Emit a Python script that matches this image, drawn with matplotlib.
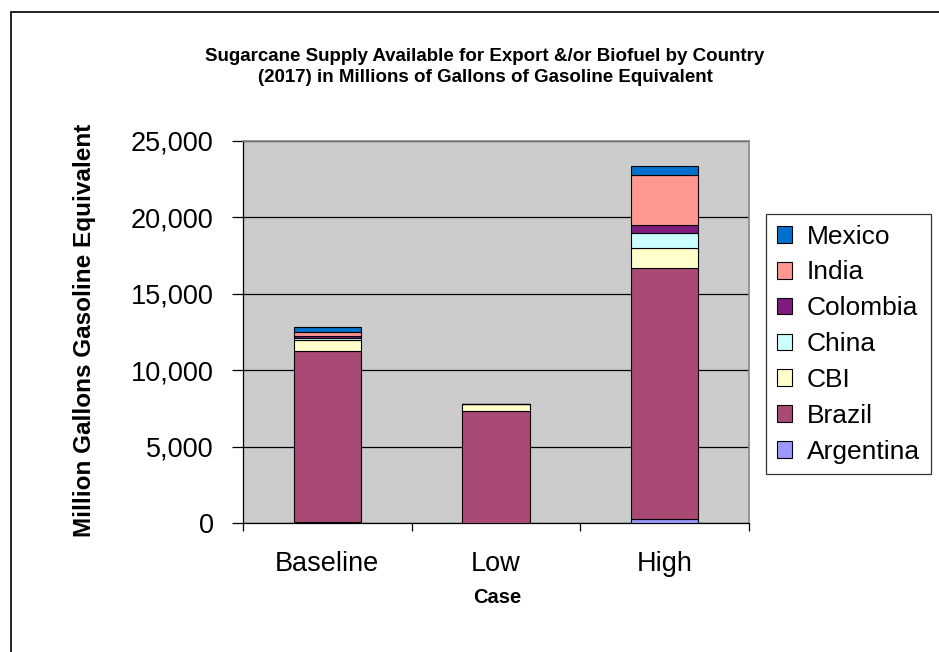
import matplotlib.pyplot as plt
import matplotlib.patches as mpatches
from matplotlib.ticker import FuncFormatter
import numpy as np

plt.rcParams['font.family'] = ['Liberation Sans', 'DejaVu Sans']

cases = ['Baseline', 'Low', 'High']
countries = ['Argentina', 'Brazil', 'CBI', 'China', 'Colombia', 'India', 'Mexico']
argentina = [100, 0, 280]
brazil = [11150, 7340, 16390]
cbi = [730, 460, 1350]
china = [100, 0, 940]
colombia = [170, 0, 545]
india = [280, 0, 3270]
mexico = [280, 0, 540]
series = [argentina, brazil, cbi, china, colombia, india, mexico]
colors = ['#9999FF', '#A94A76', '#FFFFCC', '#CCFFFF', '#7F1A7F', '#FF9791', '#0070CC']

W, H = 939, 652
fig = plt.figure(figsize=(W / 100, H / 100), dpi=100)

# outer chart frame (right and bottom edges run off the canvas)
fig.patches.append(mpatches.Rectangle((11 / W, -0.1), 1.2, 1.1 - 12 / H,
                                      transform=fig.transFigure, fill=False,
                                      edgecolor='black', linewidth=1.2))

ax = fig.add_axes([243 / W, 1 - 523.3 / H, (749 - 243) / W, (523.3 - 140.7) / H])
ax.set_facecolor('#CCCCCC')

x = np.arange(len(cases))
bottom = np.zeros(len(cases))
handles = []
for name, vals, c in zip(countries, series, colors):
    v = np.array(vals, dtype=float)
    b = ax.bar(x, v, 0.4, bottom=bottom, color=c, edgecolor='black',
               linewidth=0.8, label=name, zorder=3)
    handles.append(b)
    bottom += v

ax.set_xlim(-0.5, 2.5)
ax.set_ylim(0, 25000)
ax.set_yticks(np.arange(0, 25001, 5000))
ax.yaxis.set_major_formatter(FuncFormatter(lambda v, p: f'{int(v):,}'))
ax.grid(axis='y', color='black', linewidth=0.9, zorder=1)
ax.set_xticks(x)
ax.set_xticklabels(cases)
ax.set_xticks([-0.5, 0.5, 1.5, 2.5], minor=True)
ax.tick_params(axis='x', which='major', length=0, pad=20, labelsize=19.5)
ax.tick_params(axis='x', which='minor', length=6, width=0.9, direction='out')
ax.tick_params(axis='y', length=8, width=0.9, direction='out', labelsize=19.5, pad=13)

for s in ['top', 'right']:
    ax.spines[s].set_color('#888888')
    ax.spines[s].set_linewidth(1.2)
for s in ['left', 'bottom']:
    ax.spines[s].set_color('black')
    ax.spines[s].set_linewidth(0.9)

ax.set_xlabel('Case', fontsize=14.5, fontweight='bold')
ax.xaxis.set_label_coords(0.502, -0.168)
ax.set_ylabel('Million Gallons Gasoline Equivalent', fontsize=17.5, fontweight='bold')
ax.yaxis.set_label_coords(-0.29, 0.505)

fig.text(485 / W, 1 - 67 / H,
         'Sugarcane Supply Available for Export &/or Biofuel by Country\n'
         '(2017) in Millions of Gallons of Gasoline Equivalent',
         ha='center', va='center', fontsize=13.5, fontweight='bold', linespacing=1.25)

leg = fig.legend(handles[::-1], countries[::-1], loc='upper left',
                 bbox_to_anchor=(766 / W, 1 - 214 / H), fontsize=19,
                 frameon=True, fancybox=False, edgecolor='black',
                 handlelength=0.6, handleheight=0.6, handletextpad=0.55,
                 labelspacing=0.45, borderpad=0.4, borderaxespad=0)
leg.get_frame().set_linewidth(0.9)

fig.savefig('out.png', dpi=100)
